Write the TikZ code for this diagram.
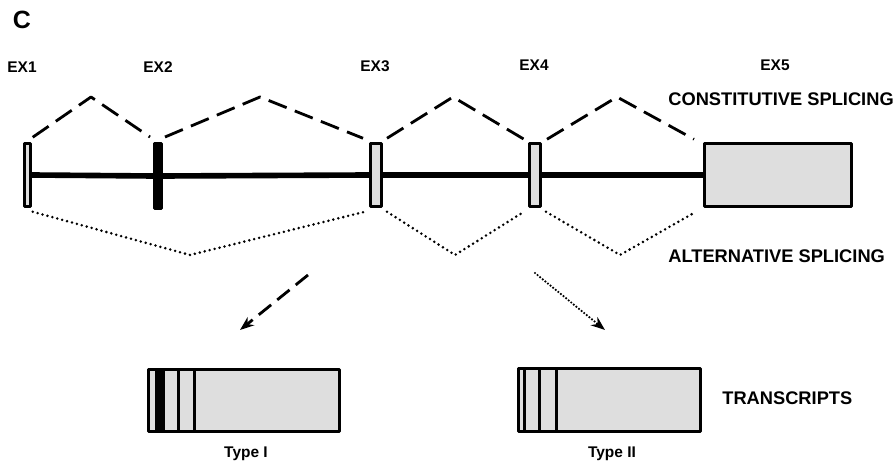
\documentclass[tikz,border=0pt]{standalone}
\usepackage{fontspec}
\setmainfont{Liberation Sans}
\usetikzlibrary{arrows.meta}
\definecolor{exgray}{RGB}{222,222,222}
\begin{document}
\begin{tikzpicture}[x=0.02cm, y=-0.02cm, line join=round, >={Stealth[length=8pt,width=6pt]},
	exon/.style={draw, line width=1.7pt, fill=exgray, inner sep=0pt, minimum height=1.25cm},
	intron/.style={line width=3.2pt},
	const/.style={line width=1.6pt, dash pattern=on 11pt off 5pt},
	alt/.style={line width=1.6pt, line cap=round, dash pattern=on 0pt off 2.9pt},
	lbl/.style={font=\bfseries\fontsize{8.8}{10}\selectfont, inner sep=0pt},
	biglbl/.style={font=\bfseries\fontsize{10.4}{12}\selectfont, inner sep=0pt, anchor=west}]
	\useasboundingbox (0,0) rectangle (896,465);
	\node[font=\bfseries\fontsize{14.2}{16}\selectfont, inner sep=0pt] (panel) at (22,20) {C};
	\node[lbl] (lex1) at (22,67) {EX1};
	\node[lbl] (lex2) at (158,67) {EX2};
	\node[lbl] (lex3) at (375,66) {EX3};
	\node[lbl] (lex4) at (534,65) {EX4};
	\node[lbl] (lex5) at (775,65) {EX5};
	\node[exon, minimum width=0.12cm] (ex1) at (27.2,175) {};
	\node[exon, fill=black, minimum width=0.14cm, minimum height=1.3cm] (ex2) at (158,176) {};
	\node[exon, minimum width=0.22cm] (ex3) at (376,175) {};
	\node[exon, minimum width=0.22cm] (ex4) at (535,175) {};
	\node[exon, minimum width=2.94cm] (ex5) at (778,175) {};
	\draw[intron] (ex1.east) -- (ex2.west) (ex2.east) -- (ex3.west)
		(ex3.east) -- (ex4.west) (ex4.east) -- (ex5.west);
	\coordinate (c12) at (91,97);
	\coordinate (c23) at (260,97);
	\coordinate (c34) at (453,97);
	\coordinate (c45) at (617,97);
	\draw[const] ([shift={(1,-5)}]ex1.north east) -- (c12) -- ([shift={(-3,-5)}]ex2.north west);
	\draw[const] ([shift={(2,-5)}]ex2.north east) -- (c23) -- ([shift={(-6,-4)}]ex3.north west);
	\draw[const] ([shift={(4,-4)}]ex3.north east) -- (c34) -- ([shift={(-4,-3)}]ex4.north west);
	\draw[const] ([shift={(5,-3)}]ex4.north east) -- (c45) -- ([shift={(-9,-3)}]ex5.north west);
	\coordinate (a13) at (190,255);
	\coordinate (a34) at (455,255);
	\coordinate (a45) at (620,255);
	\draw[alt] ([shift={(1,4)}]ex1.south east) -- (a13) -- ([shift={(-4,4)}]ex3.south west);
	\draw[alt] ([shift={(4,4)}]ex3.south east) -- (a34) -- ([shift={(-4,4)}]ex4.south west);
	\draw[alt] ([shift={(4,4)}]ex4.south east) -- (a45) -- ([shift={(-7,4)}]ex5.south west);
	\node[biglbl] (lconst) at (668,99) {CONSTITUTIVE SPLICING};
	\node[biglbl] (lalt) at (668,256) {ALTERNATIVE SPLICING};
	\coordinate (d1) at (308,275);
	\coordinate (d2) at (240,330);
	\coordinate (o1) at (535,273);
	\coordinate (o2) at (605,330);
	\draw[const, dash pattern=on 9pt off 4.5pt, ->] (d1) -- (d2);
	\draw[alt, line width=1.4pt, dash pattern=on 0pt off 1.9pt, ->] (o1) -- (o2);
	\node[exon, minimum width=3.82cm, minimum height=1.24cm] (t1) at (244,400.5) {};
	\fill ([shift={(7.75,0)}]t1.north west) rectangle ([shift={(17.75,0)}]t1.south west);
	\draw[line width=1.7pt] ([shift={(31.75,0)}]t1.north west) -- ([shift={(31.75,0)}]t1.south west)
		([shift={(47.75,0)}]t1.north west) -- ([shift={(47.75,0)}]t1.south west);
	\node[exon, minimum width=3.64cm, minimum height=1.26cm] (t2) at (609.5,400) {};
	\draw[line width=1.7pt] ([shift={(7.75,0)}]t2.north west) -- ([shift={(7.75,0)}]t2.south west)
		([shift={(22.5,0)}]t2.north west) -- ([shift={(22.5,0)}]t2.south west)
		([shift={(39,0)}]t2.north west) -- ([shift={(39,0)}]t2.south west);
	\node[lbl] (ltype1) at (246,454) {Type I};
	\node[lbl] (ltype2) at (612,454) {Type II};
	\node[biglbl] (ltrans) at (722,398) {TRANSCRIPTS};
\end{tikzpicture}
\end{document}
